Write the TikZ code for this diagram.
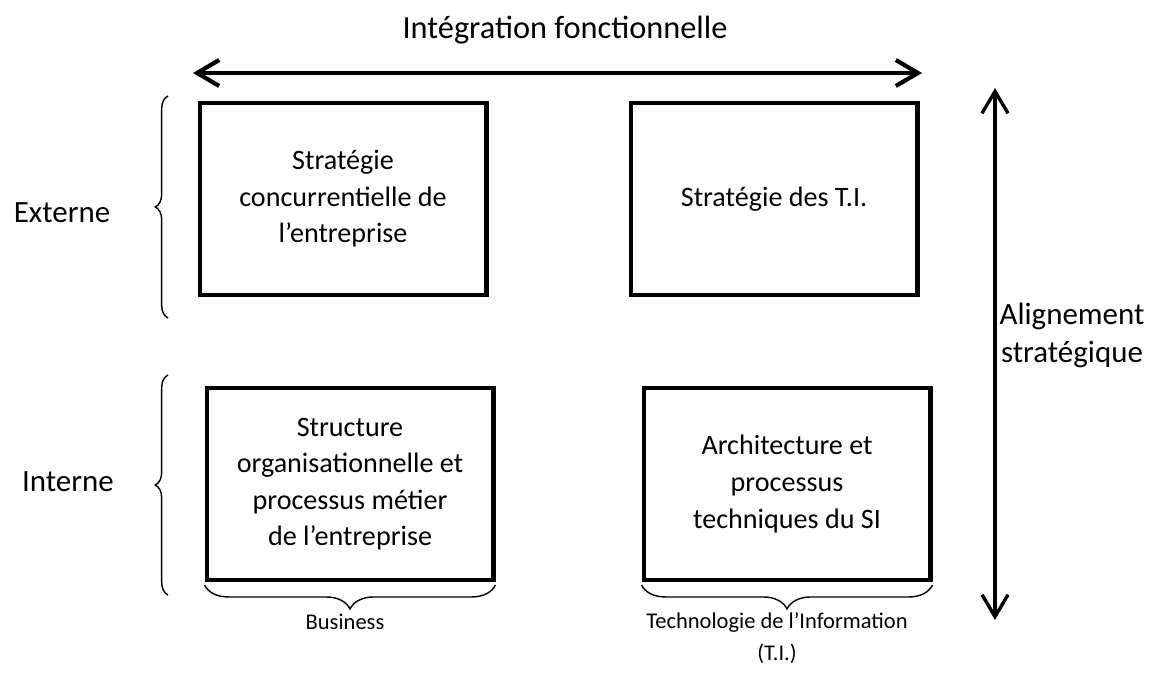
\documentclass[tikz,border=0pt]{standalone}
\usepackage{fontspec}
\setmainfont{Carlito}
\usetikzlibrary{positioning,arrows.meta,decorations.pathreplacing}
\begin{document}
\begin{tikzpicture}[x=0.025cm,y=-0.025cm]

\tikzstyle{bloc} = [rectangle, minimum width=7.15cm, minimum height=4.8cm, text centered, align=center, draw=black, line width=3.5pt, font=\fontsize{20}{26}\selectfont]
\tikzstyle{etiquette} = [align=center, font=\fontsize{22}{27}\selectfont]
\tikzstyle{legende} = [align=center, font=\fontsize{16}{23}\selectfont]
\tikzstyle{arrow} = [line width=3pt, {Straight Barb[length=5.5mm,width=6.5mm]}-{Straight Barb[length=5.5mm,width=6.5mm]}]
\tikzstyle{accolade} = [line width=1pt, decorate, decoration={brace, amplitude=9pt}]

\useasboundingbox (0,0) rectangle (1162,675);

% Define nodes
\node (titre) [etiquette, font=\fontsize{23}{27}\selectfont] at (565,30) {Intégration fonctionnelle};
\node (strat) [bloc] at (343,199) {Stratégie\\concurrentielle de\\l’entreprise};
\node (strati) [bloc, right=3.5cm of strat] {Stratégie des T.I.};
\node (struct) [bloc] at (350,484) {Structure\\organisationnelle et\\processus métier\\de l’entreprise};
\node (archi) [bloc, right=3.65cm of struct] {Architecture et\\processus\\techniques du SI};
\node (externe) [etiquette] at (62,213) {Externe};
\node (interne) [etiquette] at (68,482) {Interne};
\node (align) [etiquette] at (1072,335) {Alignement\\stratégique};
\node (business) [legende] at (345,622) {Business};
\node (ti) [legende] at (777,638) {Technologie de l’Information\\(T.I.)};

\coordinate (gauche) at (193,73);
\coordinate (droite) at (922,73);
\coordinate (haut) at (995,88);
\coordinate (bas) at (995,620);

% Draw arrows
\draw [arrow] (gauche) -- (droite);
\draw [arrow, line width=2.4pt] (haut) -- (bas);

% Draw braces
\draw [accolade] (168,318) -- (168,96);
\draw [accolade] (168,595) -- (168,375);
\draw [accolade, decoration={amplitude=17pt}] ([yshift=-1.8pt]struct.south east) -- ([yshift=-1.8pt]struct.south west);
\draw [accolade, decoration={amplitude=17pt}] ([yshift=-1.8pt]archi.south east) -- ([yshift=-1.8pt]archi.south west);

\end{tikzpicture}
\end{document}
